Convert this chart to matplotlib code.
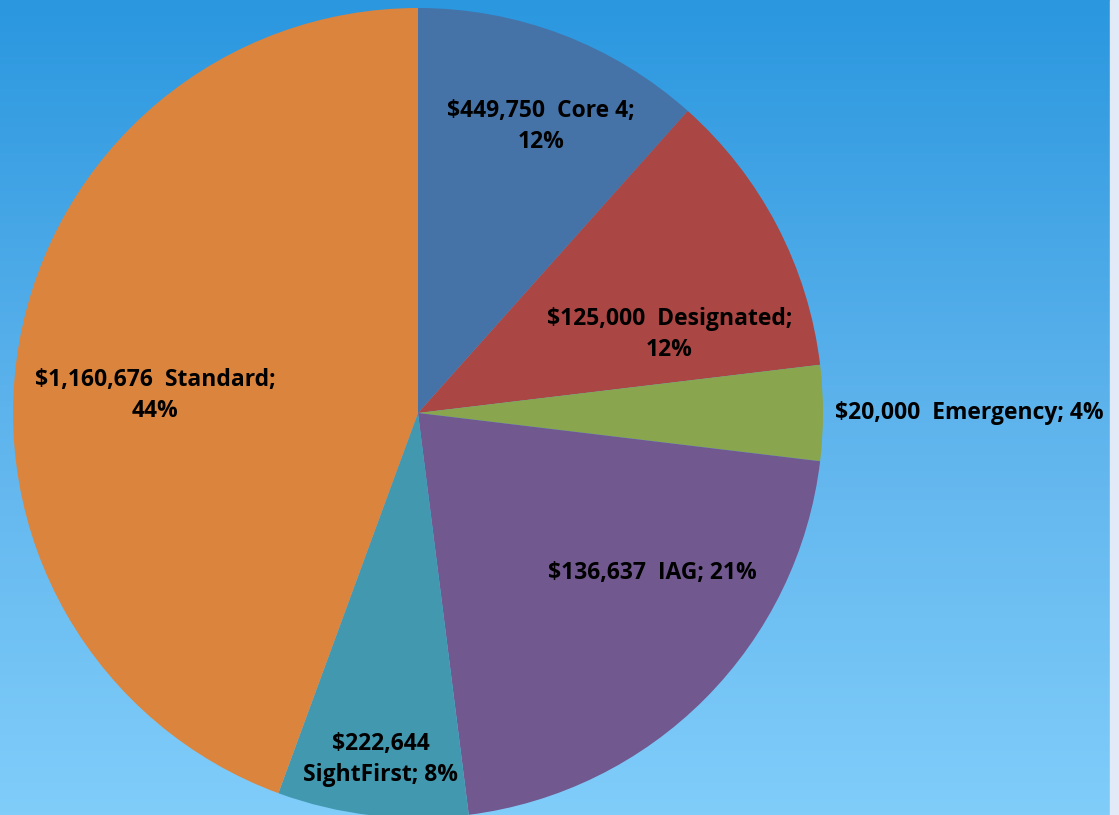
import numpy as np
import matplotlib
matplotlib.use("Agg")
import matplotlib.pyplot as plt
from matplotlib.colors import LinearSegmentedColormap

# shares (percent)
names = ["Core 4", "Designated", "Emergency", "IAG", "SightFirst", "Standard"]
shares = [11.6, 11.5, 3.8, 21.1, 7.6, 44.4]
amounts = ["$449,750", "$125,000", "$20,000", "$136,637", "$222,644", "$1,160,676"]
pct_text = ["12%", "12%", "4%", "21%", "8%", "44%"]
colors = ["#4573A7", "#AA4643", "#89A54E", "#71588F", "#4198AF", "#DB843D"]

plt.rcParams['font.family'] = ['Open Sans', 'DejaVu Sans']

W, H = 1119, 815
fig = plt.figure(figsize=(W / 100, H / 100), dpi=100)

# background gradient
bg = fig.add_axes([0, 0, 1, 1])
cmap = LinearSegmentedColormap.from_list("bg", ["#2A97DF", "#5DB3EC", "#80CDFA"])
grad = np.linspace(0, 1, 256).reshape(-1, 1)
bg.imshow(grad, aspect="auto", cmap=cmap, extent=[0, 1, 0, 1], origin="upper")
bg.axvspan(1110 / W, 1, color="#E2EAF8")
bg.set_xlim(0, 1)
bg.set_ylim(0, 1)
bg.axis("off")

cx, cy, R = 418, 413, 405
ax = fig.add_axes([(cx - R) / W, (H - cy - R) / H, 2 * R / W, 2 * R / H])
ax.patch.set_alpha(0)
wedges, _ = ax.pie(shares, colors=colors, startangle=90, counterclock=False,
                   wedgeprops=dict(linewidth=0))
for w in wedges:
    w.set_clip_on(False)
ax.set_xlim(-1, 1)
ax.set_ylim(-1, 1)
ax.set_aspect("equal")
ax.axis("off")

# label text and placement (radius factor, angle shift in degrees)
label_text = [
    f"{amounts[0]}  {names[0]};\n{pct_text[0]}",
    f"{amounts[1]}  {names[1]};\n{pct_text[1]}",
    f"{amounts[2]}  {names[2]}; {pct_text[2]}",
    f"{amounts[3]}  {names[3]}; {pct_text[3]}",
    f"{amounts[4]}\n{names[4]}; {pct_text[4]}",
    f"{amounts[5]}  {names[5]};\n{pct_text[5]}",
]
place = [(0.77, -2.3), (0.65, -10.2), (1.03, 0.0), (0.70, 10.5), (0.86, 0.3), (0.65, 6.2)]

for w, txt, (rf, dth) in zip(wedges, label_text, place):
    mid = np.deg2rad((w.theta1 + w.theta2) / 2 + dth)
    x, y = rf * np.cos(mid), rf * np.sin(mid)
    ha = "left" if rf > 1 else "center"
    ax.text(x, y, txt, ha=ha, va="center", fontsize=16.5, fontweight="bold",
            color="black", linespacing=1.4, multialignment="center")

fig.savefig("out.png", dpi=100)
